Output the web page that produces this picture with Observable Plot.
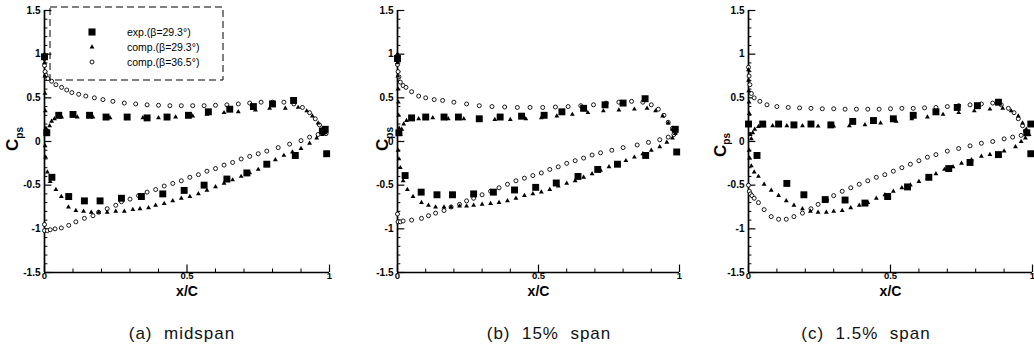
<!DOCTYPE html>
<html>
<head>
<meta charset="utf-8">
<script src="https://cdn.jsdelivr.net/npm/d3@7"></script>
<script src="https://cdn.jsdelivr.net/npm/@observablehq/plot@0.6"></script>
<style>
  html, body { margin: 0; padding: 0; background: #fff; }
  #wrap { position: relative; width: 1034px; height: 355px; overflow: hidden; background: #fff; }
  .panel { position: absolute; top: 0; }
  .cap { position: absolute; top: 324px; font-family: "Liberation Sans Narrow", "Liberation Sans", Arial, sans-serif; font-size: 17px; letter-spacing: 1px; color: #111; transform: translateX(-50%); white-space: pre; }
</style>
</head>
<body>
<div id="wrap"></div>
<script>
// ---------- tick values ----------
const xMajor = [0, 0.5, 1];
const xMinor = [0.1, 0.2, 0.3, 0.4, 0.6, 0.7, 0.8, 0.9];
const yMajor = [-1.5, -1, -0.5, 0, 0.5, 1, 1.5];
const yMinor = [-1.4, -1.3, -1.2, -1.1, -0.9, -0.8, -0.7, -0.6, -0.4, -0.3, -0.2, -0.1,
                0.1, 0.2, 0.3, 0.4, 0.6, 0.7, 0.8, 0.9, 1.1, 1.2, 1.3, 1.4];

const seriesLabels = ["exp.(\u03b2=29.3\u00b0)", "comp.(\u03b2=29.3\u00b0)", "comp.(\u03b2=36.5\u00b0)"];
const captions = ["(a)  midspan", "(b)  15%  span", "(c)  1.5%  span"];

// ---------- (a) midspan ----------
const expA = [[0.0,0.97],[0.008,0.10],[0.05,0.30],[0.10,0.31],[0.158,0.30],[0.216,0.28],[0.29,0.28],[0.36,0.27],
  [0.43,0.28],[0.505,0.30],[0.575,0.34],[0.65,0.37],[0.733,0.40],[0.80,0.43],[0.874,0.47],[0.975,0.12],[0.985,0.14],
  [0.026,-0.41],[0.085,-0.63],[0.14,-0.68],[0.195,-0.68],[0.27,-0.65],[0.34,-0.63],[0.415,-0.60],[0.49,-0.56],
  [0.56,-0.50],[0.64,-0.43],[0.71,-0.36],[0.78,-0.26],[0.88,-0.16],[0.99,-0.14]];
const triA = [[0.0,1.0],[0.0,0.9],[0.001,0.75],[0.002,0.55],[0.003,0.35],[0.005,0.15],[0.008,0.08],[0.012,0.12],
  [0.018,0.18],[0.025,0.23],[0.035,0.26],[0.06,0.28],[0.115,0.28],[0.17,0.28],[0.23,0.27],[0.29,0.27],[0.345,0.27],
  [0.40,0.27],[0.46,0.28],[0.52,0.29],[0.57,0.31],[0.63,0.33],[0.68,0.34],[0.74,0.36],[0.79,0.38],[0.845,0.38],
  [0.89,0.39],[0.92,0.35],[0.94,0.29],[0.96,0.21],[0.975,0.14],[0.985,0.10],
  [0.002,-0.05],[0.004,-0.18],[0.01,-0.35],[0.02,-0.46],[0.04,-0.55],[0.059,-0.63],[0.084,-0.75],[0.11,-0.79],
  [0.137,-0.80],[0.164,-0.81],[0.19,-0.81],[0.22,-0.81],[0.25,-0.80],[0.28,-0.80],[0.31,-0.78],[0.335,-0.77],
  [0.365,-0.76],[0.39,-0.73],[0.42,-0.71],[0.45,-0.68],[0.48,-0.65],[0.51,-0.63],[0.54,-0.60],[0.57,-0.56],
  [0.60,-0.52],[0.63,-0.48],[0.66,-0.44],[0.69,-0.40],[0.72,-0.36],[0.75,-0.32],[0.78,-0.27],[0.81,-0.21],
  [0.84,-0.16],[0.87,-0.12],[0.90,-0.08],[0.93,-0.02],[0.955,0.04],[0.975,0.08]];
const circA = [[0.0,0.95],[0.0,0.87],[0.002,0.80],[0.005,0.76],[0.012,0.72],[0.025,0.69],[0.04,0.65],[0.06,0.62],
  [0.078,0.59],[0.096,0.56],[0.12,0.54],[0.145,0.52],[0.175,0.50],[0.205,0.48],[0.24,0.46],[0.28,0.44],[0.32,0.43],
  [0.36,0.42],[0.40,0.415],[0.44,0.41],[0.48,0.41],[0.52,0.41],[0.56,0.41],[0.60,0.415],[0.64,0.42],[0.68,0.43],
  [0.72,0.44],[0.76,0.45],[0.80,0.45],[0.84,0.45],[0.875,0.43],[0.905,0.39],[0.93,0.33],[0.95,0.26],[0.965,0.19],
  [0.978,0.13],[0.988,0.09],
  [0.0,-0.95],[0.0,-1.02],[0.01,-1.02],[0.02,-1.01],[0.037,-1.0],[0.059,-0.99],[0.085,-0.96],[0.11,-0.92],
  [0.14,-0.88],[0.17,-0.85],[0.19,-0.81],[0.22,-0.77],[0.25,-0.73],[0.27,-0.69],[0.30,-0.66],[0.33,-0.62],
  [0.36,-0.58],[0.39,-0.55],[0.42,-0.51],[0.45,-0.48],[0.48,-0.45],[0.51,-0.41],[0.54,-0.38],[0.57,-0.34],
  [0.60,-0.31],[0.63,-0.27],[0.66,-0.24],[0.69,-0.20],[0.72,-0.17],[0.75,-0.14],[0.78,-0.11],[0.82,-0.07],
  [0.86,-0.03],[0.90,0.01],[0.93,0.05],[0.96,0.08],[0.975,0.10]];

// ---------- (b) 15% span ----------
const expB = [[0.0,0.95],[0.005,0.10],[0.05,0.27],[0.10,0.28],[0.165,0.28],[0.216,0.28],[0.29,0.26],[0.364,0.28],
  [0.44,0.29],[0.52,0.30],[0.583,0.34],[0.66,0.38],[0.736,0.42],[0.80,0.44],[0.878,0.49],[0.985,0.14],
  [0.027,-0.39],[0.084,-0.58],[0.14,-0.61],[0.195,-0.61],[0.27,-0.60],[0.34,-0.58],[0.415,-0.555],[0.49,-0.525],
  [0.563,-0.475],[0.64,-0.40],[0.71,-0.32],[0.78,-0.26],[0.88,-0.16],[0.99,-0.12]];
const triB = [[0.0,1.0],[0.0,0.9],[0.001,0.75],[0.002,0.6],[0.003,0.45],[0.004,0.3],[0.006,0.15],[0.01,0.08],
  [0.015,0.14],[0.022,0.2],[0.032,0.24],[0.05,0.26],[0.075,0.26],[0.125,0.27],[0.18,0.26],[0.235,0.26],[0.29,0.25],
  [0.345,0.25],[0.40,0.25],[0.455,0.26],[0.51,0.27],[0.565,0.29],[0.62,0.31],[0.675,0.33],[0.73,0.35],[0.785,0.36],
  [0.84,0.37],[0.885,0.38],[0.915,0.35],[0.94,0.29],[0.96,0.21],[0.975,0.14],[0.985,0.09],
  [0.002,-0.1],[0.005,-0.2],[0.01,-0.30],[0.02,-0.45],[0.035,-0.55],[0.055,-0.63],[0.085,-0.70],[0.11,-0.73],
  [0.135,-0.75],[0.165,-0.75],[0.19,-0.75],[0.22,-0.74],[0.245,-0.74],[0.27,-0.73],[0.30,-0.72],[0.33,-0.71],
  [0.36,-0.70],[0.39,-0.68],[0.42,-0.65],[0.45,-0.62],[0.48,-0.60],[0.51,-0.58],[0.54,-0.55],[0.57,-0.51],
  [0.60,-0.48],[0.63,-0.45],[0.66,-0.41],[0.69,-0.37],[0.72,-0.33],[0.75,-0.29],[0.78,-0.26],[0.81,-0.22],
  [0.84,-0.18],[0.87,-0.14],[0.90,-0.10],[0.93,-0.06],[0.955,-0.01],[0.975,0.04]];
const circB = [[0.0,0.98],[0.0,0.88],[0.002,0.80],[0.005,0.74],[0.01,0.68],[0.02,0.64],[0.03,0.62],[0.05,0.57],
  [0.075,0.52],[0.10,0.50],[0.13,0.48],[0.16,0.47],[0.20,0.45],[0.245,0.43],[0.29,0.41],[0.335,0.40],[0.38,0.395],
  [0.425,0.39],[0.47,0.39],[0.515,0.39],[0.56,0.395],[0.605,0.40],[0.65,0.41],[0.695,0.42],[0.74,0.44],[0.785,0.45],
  [0.83,0.46],[0.87,0.45],[0.90,0.42],[0.925,0.37],[0.945,0.30],[0.96,0.22],[0.975,0.15],[0.985,0.10],
  [0.0,-0.83],[0.002,-0.92],[0.01,-0.92],[0.02,-0.91],[0.05,-0.90],[0.085,-0.88],[0.11,-0.85],[0.135,-0.82],
  [0.165,-0.79],[0.19,-0.75],[0.22,-0.72],[0.245,-0.68],[0.27,-0.65],[0.30,-0.61],[0.33,-0.57],[0.36,-0.53],
  [0.39,-0.49],[0.42,-0.45],[0.45,-0.42],[0.48,-0.39],[0.51,-0.36],[0.54,-0.32],[0.57,-0.29],[0.60,-0.25],
  [0.63,-0.22],[0.66,-0.19],[0.69,-0.155],[0.72,-0.13],[0.76,-0.10],[0.80,-0.07],[0.85,-0.04],[0.89,-0.01],
  [0.93,0.02],[0.96,0.05],[0.98,0.08]];

// ---------- (c) 1.5% span ----------
const expC = [[0.0,0.2],[0.05,0.2],[0.106,0.2],[0.16,0.19],[0.22,0.2],[0.29,0.19],[0.367,0.23],[0.44,0.24],
  [0.51,0.26],[0.58,0.30],[0.66,0.34],[0.735,0.39],[0.806,0.41],[0.88,0.45],[0.98,0.1],[0.994,0.2],
  [0.03,-0.16],[0.135,-0.48],[0.195,-0.61],[0.27,-0.665],[0.34,-0.67],[0.41,-0.705],[0.49,-0.63],[0.56,-0.52],
  [0.635,-0.41],[0.705,-0.31],[0.78,-0.24],[0.88,-0.15],[0.994,-0.14]];
const triC = [[0.0,0.82],[0.0,0.7],[0.001,0.58],[0.002,0.45],[0.003,0.32],[0.004,0.2],[0.006,0.08],[0.01,0.03],
  [0.015,0.1],[0.022,0.14],[0.035,0.17],[0.055,0.18],[0.085,0.18],[0.135,0.18],[0.19,0.18],[0.245,0.175],
  [0.30,0.175],[0.355,0.18],[0.41,0.19],[0.465,0.21],[0.52,0.23],[0.575,0.26],[0.63,0.28],[0.685,0.31],[0.74,0.33],
  [0.795,0.35],[0.85,0.37],[0.895,0.38],[0.925,0.35],[0.95,0.29],[0.965,0.21],[0.978,0.14],[0.988,0.08],
  [0.002,-0.1],[0.004,-0.19],[0.01,-0.28],[0.02,-0.35],[0.035,-0.40],[0.055,-0.49],[0.08,-0.56],[0.106,-0.62],
  [0.133,-0.68],[0.16,-0.73],[0.19,-0.77],[0.218,-0.80],[0.245,-0.81],[0.274,-0.81],[0.30,-0.80],[0.33,-0.79],
  [0.36,-0.76],[0.39,-0.73],[0.42,-0.70],[0.45,-0.65],[0.48,-0.61],[0.51,-0.57],[0.54,-0.53],[0.57,-0.50],
  [0.60,-0.46],[0.63,-0.42],[0.66,-0.37],[0.69,-0.32],[0.72,-0.29],[0.75,-0.25],[0.785,-0.21],[0.82,-0.17],
  [0.85,-0.15],[0.90,-0.11],[0.94,-0.06],[0.96,0.0],[0.975,0.04]];
const circC = [[0.0,0.85],[0.002,0.75],[0.005,0.65],[0.01,0.55],[0.02,0.50],[0.04,0.46],[0.065,0.42],[0.10,0.40],
  [0.14,0.39],[0.18,0.385],[0.22,0.38],[0.26,0.375],[0.30,0.375],[0.34,0.37],[0.38,0.37],[0.42,0.37],[0.46,0.37],
  [0.50,0.375],[0.54,0.38],[0.58,0.38],[0.62,0.385],[0.66,0.39],[0.70,0.40],[0.74,0.41],[0.78,0.42],[0.82,0.43],
  [0.86,0.44],[0.89,0.42],[0.915,0.38],[0.935,0.33],[0.95,0.26],[0.965,0.18],[0.975,0.12],
  [0.0,-0.50],[0.003,-0.57],[0.007,-0.60],[0.012,-0.62],[0.02,-0.65],[0.035,-0.70],[0.055,-0.78],[0.08,-0.86],
  [0.106,-0.89],[0.133,-0.89],[0.16,-0.86],[0.19,-0.82],[0.22,-0.77],[0.245,-0.72],[0.275,-0.67],[0.30,-0.62],
  [0.33,-0.57],[0.36,-0.53],[0.39,-0.49],[0.42,-0.45],[0.45,-0.41],[0.48,-0.38],[0.51,-0.34],[0.54,-0.30],
  [0.57,-0.26],[0.60,-0.22],[0.63,-0.18],[0.66,-0.15],[0.70,-0.11],[0.74,-0.08],[0.78,-0.05],[0.82,-0.02],
  [0.86,0.0],[0.90,0.03],[0.93,0.05],[0.96,0.07]];

// ---------- layout ----------
const panels = [
  {left: 0,   width: 345, ml: 44, mr: 16, exp: expA, tri: triA, circ: circA, cpsX: 12.5, cpsY: 139, capX: 182, legend: true},
  {left: 345, width: 345, ml: 52, mr: 11, exp: expB, tri: triB, circ: circB, cpsX: 37.5, cpsY: 139, capX: 549, legend: false},
  {left: 690, width: 344, ml: 58, mr: 2,  exp: expC, tri: triC, circ: circC, cpsX: 30,   cpsY: 145, capX: 866, legend: false}
];

const H = 300, MT = 10, MB = 28;
const wrap = document.getElementById("wrap");
const FONT = "'Liberation Sans', Arial, Helvetica, sans-serif";

panels.forEach((p, i) => {
  const chart = Plot.plot({
    width: p.width, height: H,
    marginLeft: p.ml, marginRight: p.mr, marginTop: MT, marginBottom: MB,
    x: {domain: [0, 1], axis: null},
    y: {domain: [-1.5, 1.5], axis: null},
    style: {fontFamily: FONT, background: "transparent", overflow: "visible"},
    marks: [
      // axes lines
      Plot.ruleX([0], {y1: -1.5, y2: 1.5, stroke: "#000", strokeWidth: 1.7}),
      Plot.ruleY([-1.5], {x1: 0, x2: 1, stroke: "#000", strokeWidth: 1.7}),
      // inward ticks
      Plot.ruleX(xMajor, {x: d => d, y1: -1.5, y2: -1.5 + 0.085, stroke: "#000", strokeWidth: 1.2}),
      Plot.ruleX(xMinor, {x: d => d, y1: -1.5, y2: -1.5 + 0.04, stroke: "#000", strokeWidth: 1}),
      Plot.ruleY(yMajor, {y: d => d, x1: 0, x2: 0.026, stroke: "#000", strokeWidth: 1.2}),
      Plot.ruleY(yMinor, {y: d => d, x1: 0, x2: 0.012, stroke: "#000", strokeWidth: 1}),
      // tick labels
      Plot.text(xMajor, {x: d => d, y: -1.5, text: d => String(d), dy: 0, lineAnchor: "top",
        fontWeight: "bold", fontSize: 9.5, fill: "#000"}),
      Plot.text(yMajor, {x: 0, y: d => d, text: d => String(d), dx: -4, textAnchor: "end",
        fontWeight: "bold", fontSize: 10, fill: "#000"}),
      // x label
      Plot.text(["x/C"], {frameAnchor: "bottom", dy: 19, lineAnchor: "middle", fontWeight: "bold",
        fontSize: 14, fill: "#000"}),
      // data
      Plot.dot(p.circ, {x: d => d[0], y: d => d[1], symbol: "circle", r: 2, fill: "#fff", stroke: "#000", strokeWidth: 0.9}),
      Plot.dot(p.tri, {x: d => d[0], y: d => d[1], symbol: "triangle", r: 1.8, fill: "#000", stroke: "none"}),
      Plot.dot(p.exp, {x: d => d[0], y: d => d[1], symbol: "square", r: 3.9, fill: "#000", stroke: "none"})
    ]
  });
  const div = document.createElement("div");
  div.className = "panel";
  div.style.left = p.left + "px";
  div.appendChild(chart);
  wrap.appendChild(div);

  const svg = d3.select(chart);
  // C_ps label
  const t = svg.append("text")
    .attr("transform", `translate(${p.cpsX},${p.cpsY}) rotate(-90)`)
    .attr("text-anchor", "middle")
    .attr("dy", "0.35em")
    .attr("font-family", FONT)
    .attr("font-weight", "bold")
    .attr("font-size", 17)
    .attr("fill", "#000");
  t.append("tspan").text("C");
  t.append("tspan").attr("font-size", 10).attr("dy", "0.45em").text("ps");

  if (p.legend) {
    const g = svg.append("g");
    g.append("rect").attr("x", 50).attr("y", 7).attr("width", 173).attr("height", 73)
      .attr("fill", "none").attr("stroke", "#000").attr("stroke-width", 1).attr("stroke-dasharray", "7,4");
    const rows = [32, 47, 62];
    const sym = [d3.symbol(d3.symbolSquare, 50), d3.symbol(d3.symbolTriangle, 10), d3.symbol(d3.symbolCircle, 12.5)];
    rows.forEach((y, k) => {
      g.append("path").attr("transform", `translate(92,${y})`).attr("d", sym[k]())
        .attr("fill", k === 2 ? "#fff" : "#000").attr("stroke", k === 2 ? "#000" : "none").attr("stroke-width", 0.9);
      g.append("text").attr("x", 127).attr("y", y).attr("dy", "0.35em")
        .attr("text-anchor", "start")
        .attr("font-family", FONT).attr("font-size", 10.5).attr("fill", "#000").text(seriesLabels[k]);
    });
  }

  const cap = document.createElement("div");
  cap.className = "cap";
  cap.style.left = p.capX + "px";
  cap.textContent = captions[i];
  wrap.appendChild(cap);
});
</script>
</body>
</html>
